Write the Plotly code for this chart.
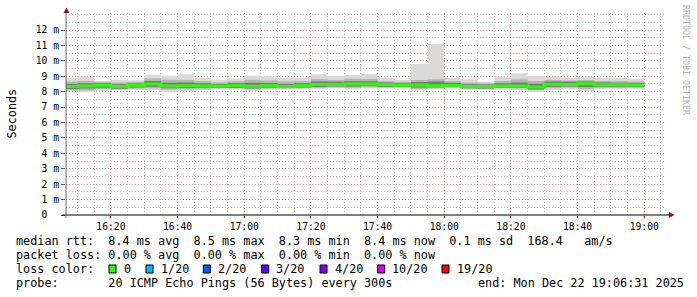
import plotly.graph_objects as go
import pandas as pd

# ---------------- data (ms) ----------------
step_end = pd.date_range("2025-12-22 16:10", "2025-12-22 19:00", freq="5min")
median = [8.33, 8.37, 8.42, 8.33, 8.42, 8.50, 8.37, 8.39, 8.39, 8.37, 8.38, 8.35,
          8.39, 8.33, 8.39, 8.46, 8.46, 8.49, 8.50, 8.45, 8.41, 8.43, 8.39, 8.40,
          8.33, 8.33, 8.37, 8.37, 8.31, 8.48, 8.47, 8.52, 8.45, 8.45, 8.43]
smoke_max = [8.88, 8.97, 8.70, 8.78, 8.74, 9.09, 9.04, 9.13, 8.91, 8.78, 8.83, 9.04,
             9.00, 8.91, 8.91, 9.13, 9.04, 9.08, 9.14, 8.88, 8.75, 9.79, 11.09, 8.90,
             8.80, 8.64, 8.98, 9.20, 9.00, 8.97, 8.91, 8.97, 8.91, 8.88, 8.83]
smoke_min = [8.05, 7.96, 8.05, 8.09, 8.09, 8.09, 8.00, 8.05, 8.09, 8.18, 8.18, 8.05,
             8.14, 8.18, 8.18, 8.18, 8.22, 8.18, 8.20, 8.20, 8.22, 8.06, 8.15, 8.25,
             8.14, 8.12, 8.18, 8.10, 8.00, 8.10, 8.18, 8.05, 8.18, 8.18, 8.18]
mid_lo = [8.10, 8.08, 8.17, 8.16, 8.19, 8.22, 8.14, 8.16, 8.19, 8.23, 8.22, 8.16,
          8.21, 8.20, 8.23, 8.25, 8.28, 8.26, 8.29, 8.27, 8.28, 8.18, 8.22, 8.29,
          8.19, 8.17, 8.23, 8.20, 8.10, 8.22, 8.27, 8.18, 8.25, 8.25, 8.25]
mid_hi = [8.64, 8.70, 8.62, 8.60, 8.63, 8.86, 8.78, 8.76, 8.68, 8.60, 8.66, 8.78,
          8.72, 8.66, 8.68, 8.82, 8.76, 8.84, 8.82, 8.68, 8.63, 8.76, 8.80, 8.68,
          8.60, 8.55, 8.70, 8.80, 8.70, 8.76, 8.72, 8.76, 8.70, 8.68, 8.66]
core_lo = [8.17, 8.20, 8.25, 8.19, 8.27, 8.32, 8.22, 8.24, 8.25, 8.26, 8.23, 8.21,
           8.26, 8.23, 8.27, 8.31, 8.33, 8.34, 8.36, 8.31, 8.31, 8.27, 8.28, 8.32,
           8.22, 8.21, 8.26, 8.25, 8.16, 8.32, 8.34, 8.31, 8.32, 8.32, 8.31]
core_hi = [8.50, 8.54, 8.54, 8.48, 8.54, 8.70, 8.58, 8.60, 8.55, 8.50, 8.54, 8.58,
           8.57, 8.50, 8.55, 8.66, 8.64, 8.68, 8.68, 8.60, 8.55, 8.62, 8.66, 8.58,
           8.48, 8.46, 8.54, 8.60, 8.52, 8.66, 8.64, 8.66, 8.60, 8.58, 8.57]

y_tick_vals = list(range(13))
y_tick_text = ["0\u00a0\u00a0"] + [f"{v} m" for v in range(1, 13)]
x_tick_vals = pd.date_range("2025-12-22 16:20", "2025-12-22 19:00", freq="20min")

legend_rows = [
    "median rtt:  8.4 ms avg  8.5 ms max  8.3 ms min  8.4 ms now  0.1 ms sd  168.4   am/s",
    "packet loss: 0.00 % avg  0.00 % max  0.00 % min  0.00 % now",
]
loss_labels = ["0", "1/20", "2/20", "3/20", "4/20", "10/20", "19/20"]
loss_colors = ["#26ff00", "#00b8ff", "#0059ff", "#5e00ff", "#7e00ff", "#dd00ff", "#ff0000"]
probe_text = "probe:       20 ICMP Echo Pings (56 Bytes) every 300s"
end_text = "end: Mon Dec 22 19:06:31 2025"

# ---------------- figure ----------------
W, H = 697, 297
L, R, T, B = 66, 666, 13, 215


def px(x):
    return (x - L) / (R - L)


def py(y):
    return (B - y) / (B - T)


x_steps = list(step_end - pd.Timedelta("5min")) + [step_end[-1]]


def ext(a):
    return list(a) + [a[-1]]


fig = go.Figure()


def band(lo, hi, color):
    fig.add_trace(go.Scatter(x=x_steps, y=ext(lo), mode="lines", line=dict(width=0, shape="hv"),
                             hoverinfo="skip", showlegend=False))
    fig.add_trace(go.Scatter(x=x_steps, y=ext(hi), mode="lines", line=dict(width=0, shape="hv"),
                             fill="tonexty", fillcolor=color, hoverinfo="skip", showlegend=False))


band(smoke_min, smoke_max, "#d9d9d9")
band(mid_lo, mid_hi, "#b4b4b4")
band(core_lo, core_hi, "#7a7a7a")
fig.add_trace(go.Scatter(x=x_steps, y=ext(median), mode="lines",
                         line=dict(width=3, shape="hv", color="#26ff00"),
                         hoverinfo="skip", showlegend=False))

mono = "DejaVu Sans Mono"
major_grid = "rgba(235,120,120,0.75)"
minor_grid = "rgba(170,170,170,0.75)"
dots = "1px,2px"

fig.update_layout(
    width=W, height=H,
    margin=dict(l=L, r=W - R, t=T, b=H - B, pad=0),
    paper_bgcolor="white", plot_bgcolor="white",
    showlegend=False,
    xaxis=dict(
        type="date",
        range=["2025-12-22 16:06:31", "2025-12-22 19:06:31"],
        tickmode="array", tickvals=list(x_tick_vals), tickformat="%H:%M",
        tickfont=dict(family=mono, size=9.7, color="#000"),
        showgrid=True, gridcolor=major_grid, griddash=dots, gridwidth=1,
        minor=dict(dtick=300000, tick0="2025-12-22 16:00", showgrid=True,
                   gridcolor=minor_grid, griddash=dots, gridwidth=1),
        ticks="outside", ticklen=2, tickcolor="#000",
        showline=False, zeroline=False, fixedrange=True,
    ),
    yaxis=dict(
        range=[0, (B - T) / ((B - 30) / 12)],
        tickmode="array", tickvals=y_tick_vals, ticktext=y_tick_text,
        tickfont=dict(family=mono, size=9.7, color="#000"),
        showgrid=True, gridcolor=major_grid, griddash=dots, gridwidth=1,
        minor=dict(dtick=0.5, tick0=0, showgrid=True,
                   gridcolor=minor_grid, griddash=dots, gridwidth=1),
        ticks="outside", ticklen=4, tickcolor="#666",
        showline=False, zeroline=False, fixedrange=True,
    ),
)

shapes = []
# axis lines
shapes.append(dict(type="line", xref="paper", yref="paper", x0=px(62), x1=px(670), y0=py(215), y1=py(215),
                   line=dict(color="#000", width=1)))
shapes.append(dict(type="line", xref="paper", yref="paper", x0=px(66), x1=px(66), y0=py(218), y1=py(11),
                   line=dict(color="#666", width=1)))
# arrows
arrow = "#8b1a1a"
shapes.append(dict(type="path", xref="paper", yref="paper",
                   path=f"M{px(63.5)},{py(13)} L{px(69.5)},{py(13)} L{px(66.5)},{py(7.5)} Z",
                   fillcolor=arrow, line=dict(width=0)))
shapes.append(dict(type="path", xref="paper", yref="paper",
                   path=f"M{px(669)},{py(212)} L{px(669)},{py(218)} L{px(674.5)},{py(215)} Z",
                   fillcolor=arrow, line=dict(width=0)))

annotations = []


def text(x, y, s, size=11.8, color="#000", anchor="left", angle=0):
    annotations.append(dict(xref="paper", yref="paper", x=px(x), y=py(y), text=s.replace(" ", "\u00a0"),
                            showarrow=False, xanchor=anchor, yanchor="middle", textangle=angle,
                            font=dict(family=mono, size=size, color=color), borderpad=0))


row_y = [241, 255, 269, 283]
text(15, row_y[0], legend_rows[0])
text(15, row_y[1], legend_rows[1])
text(15, row_y[2], "loss color:")
box_x = [109, 146, 203.3, 261.7, 320, 377.7, 442]
for bx, lab, col in zip(box_x, loss_labels, loss_colors):
    shapes.append(dict(type="rect", xref="paper", yref="paper", x0=px(bx), x1=px(bx + 7),
                       y0=py(273), y1=py(265), fillcolor=col, line=dict(color="#000", width=1)))
    text(bx + 13.5, row_y[2], lab)
text(15, row_y[3], probe_text)
text(477, row_y[3], end_text)

text(11, 113.5, "Seconds", angle=-90, anchor="center")
text(686, 60, "RRDTOOL / TOBI OETIKER", size=8.3, color="#b4b4b4", anchor="center", angle=90)

fig.update_layout(shapes=shapes, annotations=annotations)
fig.write_html("out.html")
